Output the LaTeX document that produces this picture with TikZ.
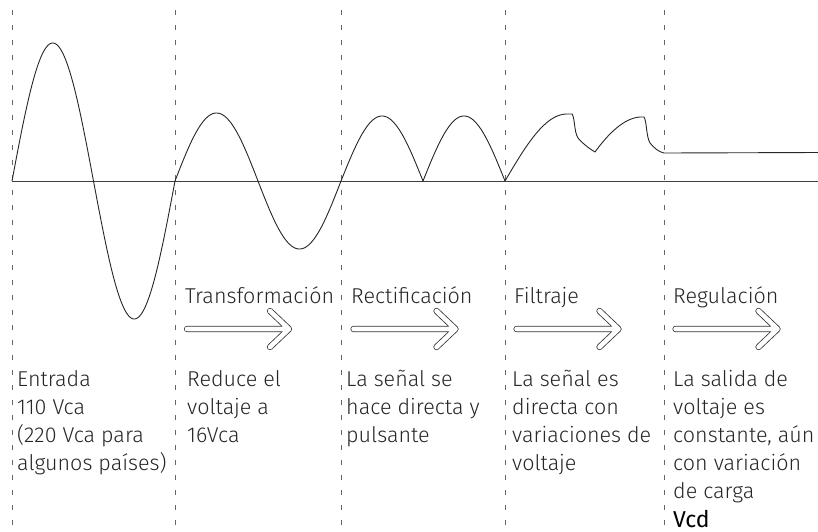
\documentclass[tikz,border=0pt]{standalone}
\usepackage{fontspec}
\setmainfont{Fira Sans Light}
\newfontfamily\vcdfont{Fira Sans}
\begin{document}
\begin{tikzpicture}[x=1pt,y=-1pt,
  sep/.style={draw=black!60, dash pattern=on 5pt off 10pt, line width=0.8pt},
  axisline/.style={draw=black!75, line width=1pt},
  wave/.style={draw=black!85, line width=0.9pt, line join=round},
  flow/.style={draw=black!80, double=white, double distance=4.6pt, line width=0.8pt, line cap=round, line join=round},
  title/.style={anchor=base west, inner sep=0pt, font=\fontsize{21.5}{28}\selectfont, text=black!85},
  desc/.style={title, align=left}]
\useasboundingbox (0,0) rectangle (818,531);
% separators
\foreach \i/\x in {1/12,2/175,3/341,4/505,5/664}{
  \coordinate (t\i) at (\x,10);
  \coordinate (b\i) at (\x,531);
  \draw[sep] (t\i) -- (b\i);
}
% axis
\coordinate (a0) at (12,181);
\coordinate (a1) at (818,181);
\draw[axisline] (a0) -- (a1);
% input wave
\draw[wave] plot[domain=12:175, samples=160, smooth] (\x, {181 - 138*sin((\x-12)/81.5*180)});
% transformed wave
\draw[wave] plot[domain=175:341, samples=160, smooth] (\x, {181 - 68*sin((\x-175)/83*180)});
% rectified wave
\draw[wave] plot[domain=341:423, samples=90, smooth] (\x, {181 - 65*sin((\x-341)/82*180)});
\draw[wave] plot[domain=423:505, samples=90, smooth] (\x, {181 - 65*sin((\x-423)/82*180)});
% filtered wave
\draw[wave] plot[domain=505:572, samples=80, smooth] (\x, {181 - 67*sin(min((\x-505)/62*90,90))})
  .. controls (575,118) and (574,132) .. (578,138)
  .. controls (583,144) and (590,149) .. (595,152)
  .. controls (608,134) and (624,118) .. (640,117) -- (644,117)
  .. controls (647,122) and (646,136) .. (650,143)
  .. controls (654,148) and (659,152) .. (664,153);
% regulated
\coordinate (r0) at (664,153);
\coordinate (r1) at (818,152.5);
\draw[wave] (r0) -- (r1);
% arrows
\foreach \i/\s in {1/187,2/353.5,3/516.5,4/675.5}{
  \coordinate (s\i) at (\s,329);
  \coordinate (p\i) at (\s+102,329);
  \coordinate (u\i) at (\s+83,311);
  \coordinate (l\i) at (\s+83,347);
  \draw[flow] (s\i) -- (p\i) (u\i) -- (p\i) -- (l\i);
}
% titles
\node[title] (h1) at (185,303) {Transformación};
\node[title] (h2) at (351,303) {Rectificación};
\node[title] (h3) at (514,303) {Filtraje};
\node[title] (h4) at (673,303) {Regulación};
% descriptions (anchored at the baseline of the last line)
\node[desc] (d0) at (17,470) {Entrada\\110 Vca\\(220 Vca para\\algunos países)};
\node[desc] (d1) at (187,442) {Reduce el\\voltaje a\\16Vca};
\node[desc] (d2) at (346,442) {La señal se\\hace directa y\\pulsante};
\node[desc] (d3) at (512,470) {La señal es\\directa con\\variaciones de\\voltaje};
\node[desc] (d4) at (673,498) {La salida de\\voltaje es\\constante, aún\\con variación\\de carga};
\node[title, font=\fontsize{23}{28}\vcdfont, text=black] (v) at (673,527) {Vcd};
\end{tikzpicture}
\end{document}
